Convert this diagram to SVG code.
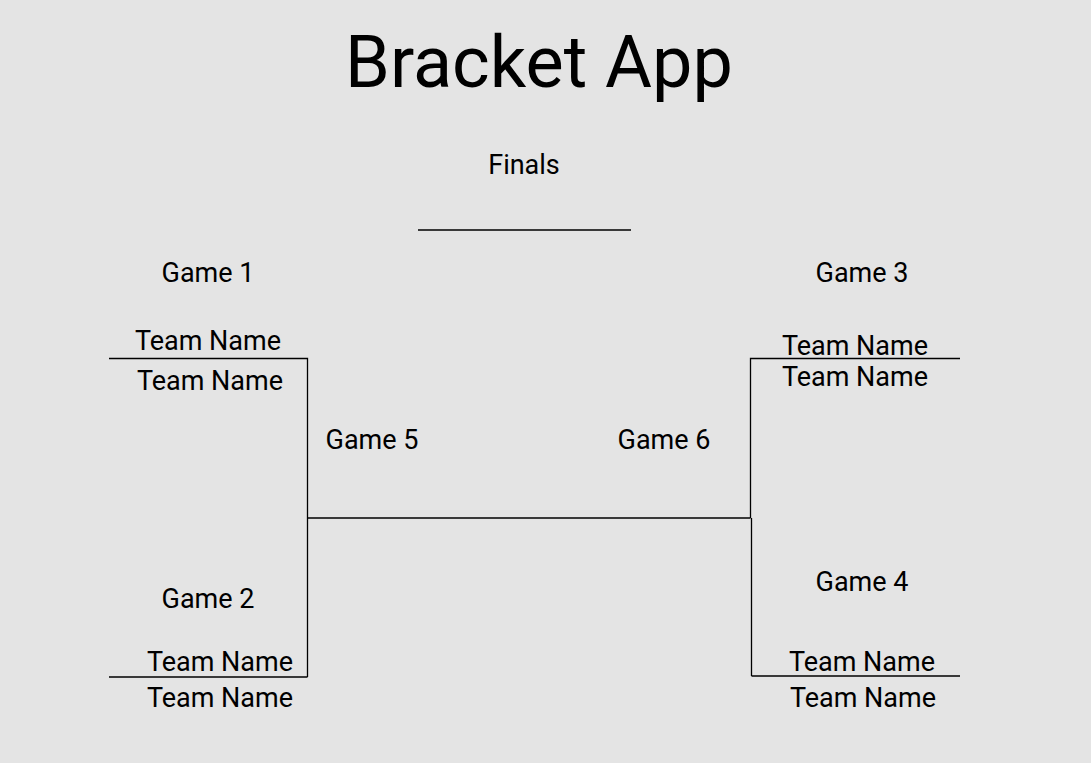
<svg xmlns="http://www.w3.org/2000/svg" width="1091" height="763" viewBox="0 0 1091 763">
<style>
text{font-family:Roboto,"Liberation Sans",sans-serif;fill:#000;text-anchor:middle}
.t{font-size:27px}
.h{font-size:72px}
.ln{stroke:#000;stroke-width:1.3;fill:none}
</style>
<rect width="1091" height="763" fill="#e4e4e4"/>
<g id="title"><text class="h" x="539" y="87">Bracket App</text></g>
<g id="finals"><text class="t" x="524" y="174">Finals</text></g>
<g id="game1"><text class="t" x="208" y="282">Game 1</text>
<text class="t" x="208" y="350">Team Name</text>
<text class="t" x="210" y="390">Team Name</text></g>
<g id="game2"><text class="t" x="208" y="608">Game 2</text>
<text class="t" x="220" y="671">Team Name</text>
<text class="t" x="220" y="707">Team Name</text></g>
<g id="game3"><text class="t" x="862" y="282">Game 3</text>
<text class="t" x="855" y="355">Team Name</text>
<text class="t" x="855" y="386">Team Name</text></g>
<g id="game4"><text class="t" x="862" y="591">Game 4</text>
<text class="t" x="862" y="671">Team Name</text>
<text class="t" x="863" y="707">Team Name</text></g>
<g id="game5"><text class="t" x="372" y="449">Game 5</text></g>
<g id="game6"><text class="t" x="664" y="449">Game 6</text></g>
<g id="connectors" class="ln">
<path d="M418 230H631"/>
<path d="M109 358.5H307.5V677M109 677H307.5"/>
<path d="M307.5 518H750.5"/>
<path d="M960 358.5H750.5V518M751.5 518V676M751.5 676H960"/>
</g>
</svg>
